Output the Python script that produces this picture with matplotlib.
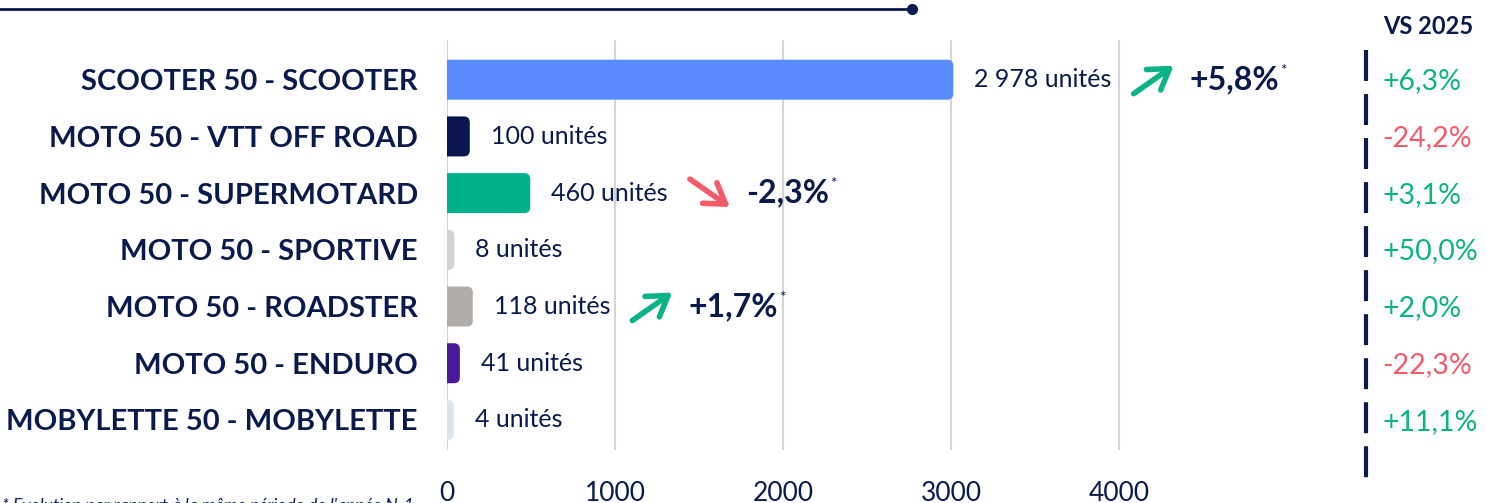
import matplotlib
matplotlib.use('Agg')
import matplotlib.pyplot as plt
from matplotlib.patches import FancyBboxPatch, BoxStyle
from matplotlib.lines import Line2D
from matplotlib.text import OffsetFrom
import matplotlib.transforms as mtransforms

plt.rcParams['font.family'] = ['Lato', 'DejaVu Sans']

# données
categories = ['SCOOTER 50 - SCOOTER', 'MOTO 50 - VTT OFF ROAD', 'MOTO 50 - SUPERMOTARD',
              'MOTO 50 - SPORTIVE', 'MOTO 50 - ROADSTER', 'MOTO 50 - ENDURO',
              'MOBYLETTE 50 - MOBYLETTE']
units = [2978, 100, 460, 8, 118, 41, 4]
unit_labels = ['2 978 unités', '100 unités', '460 unités', '8 unités', '118 unités', '41 unités', '4 unités']
bar_colors = ['#5b8cff', '#0b1650', '#00b289', '#d2d2d5', '#b1adab', '#4b1a9b', '#dde2f0']
trend = [1, 0, -1, 0, 1, 0, 0]          # flèche : 1 hausse, -1 baisse, 0 rien
trend_labels = ['+5,8%', '', '-2,3%', '', '+1,7%', '', '']
vs_labels = ['+6,3%', '-24,2%', '+3,1%', '+50,0%', '+2,0%', '-22,3%', '+11,1%']
xticks = [0, 1000, 2000, 3000, 4000]

NAVY = '#0a1a4d'
GREEN = '#0cb389'
RED = '#f45b6b'

W, H = 1486, 503
fig = plt.figure(figsize=(W / 100, H / 100), dpi=100)
ax = fig.add_axes([447 / W, 53 / H, 840 / W, 410 / H])
ax.set_xlim(0, 5000)
ax.set_ylim(6.53, -0.7)

# échelles px -> données (pour arrondir les barres)
xu = 5000 / 840
yu = 7.23 / 410
aspect = yu / xu
pad = 6 * xu
for i, (v, c) in enumerate(zip(units, bar_colors)):
    inner_h = 28 * yu
    box = FancyBboxPatch((0, i - inner_h / 2), v, inner_h,
                         boxstyle=BoxStyle('Round', pad=pad, rounding_size=6 * xu),
                         mutation_aspect=aspect, fc=c, ec='none', zorder=3)
    ax.add_patch(box)

ax.set_xticks(xticks)
ax.set_xticklabels([str(t) for t in xticks])
ax.set_yticks(range(len(categories)))
ax.set_yticklabels(categories, fontsize=21, fontweight='bold', color=NAVY)
ax.tick_params(axis='y', length=0, pad=21)
ax.tick_params(axis='x', length=0, pad=22, labelsize=19, labelcolor=NAVY)
ax.grid(axis='x', color='#d4d4d4', lw=1.5, zorder=0)
for s in ax.spines.values():
    s.set_visible(False)

# étiquettes d'unités + tendances
for i, v in enumerate(units):
    lbl = ax.annotate(unit_labels[i], xy=(v, i), xytext=(27, 0), textcoords='offset pixels',
                      ha='left', va='center', fontsize=18, color=NAVY, zorder=4)
    if trend[i] == 0:
        continue
    col = GREEN if trend[i] > 0 else RED
    ref = OffsetFrom(lbl, (1, 0.5), unit='pixels')
    gap = 22
    dy = 14 * trend[i]
    ax.annotate('', xy=(gap + 40, dy), xycoords=ref, xytext=(gap, -dy), textcoords=ref,
                arrowprops=dict(arrowstyle='->,head_length=0.7,head_width=0.45', color=col,
                                lw=4, shrinkA=0, shrinkB=0, mutation_scale=20,
                                capstyle='round', joinstyle='round'))
    pct = ax.annotate(trend_labels[i], xy=(1, 0.5), xycoords=lbl, xytext=(gap + 56, 0),
                      textcoords='offset pixels', ha='left', va='center',
                      fontsize=23, fontweight='bold', color=NAVY)
    ax.annotate('*', xy=(1, 0.8), xycoords=pct, xytext=(1, 0), textcoords='offset pixels',
                ha='left', va='center', fontsize=11, color=NAVY)

# colonne VS 2025
tr = mtransforms.blended_transform_factory(fig.transFigure, ax.transData)
for i, s in enumerate(vs_labels):
    ax.text(1382 / W, i + 0.03, s, transform=tr, ha='left', va='center', fontsize=20.5,
            color=GREEN if s.startswith('+') else RED, clip_on=False)
fig.text(1428 / W, 1 - 27 / H, 'VS 2025', ha='center', va='center', fontsize=17,
         fontweight='bold', color=NAVY)
fig.add_artist(Line2D([1366 / W, 1366 / W], [1 - 50 / H, 1 - 478 / H], color=NAVY, lw=3,
                      dashes=(22.3 / 3, 9.4 / 3), transform=fig.transFigure))

# trait du haut
fig.add_artist(Line2D([0, 912 / W], [1 - 9 / H, 1 - 9 / H], color=NAVY, lw=2,
                      transform=fig.transFigure))
fig.add_artist(Line2D([912 / W], [1 - 9 / H], marker='o', ms=7, color=NAVY,
                      transform=fig.transFigure))

# note de bas de page (coupée par le bord, comme dans l'original)
fig.text(2 / W, 5 / H, "* Evolution par rapport à la même période de l'année N-1", ha='left',
         va='top', fontsize=12.5, style='italic', color=NAVY)

fig.savefig('out.png', dpi=100)
